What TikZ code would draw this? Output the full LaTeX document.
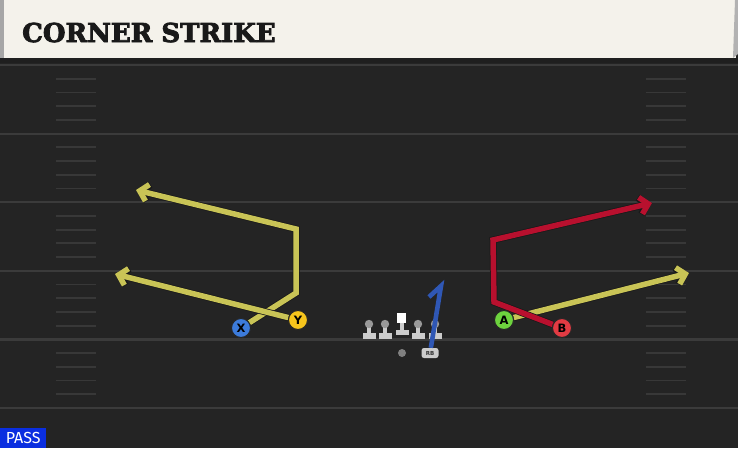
\documentclass[tikz,border=0pt]{standalone}
\usepackage{fontspec}
\setmainfont{DejaVu Sans}
\newfontfamily\titlefont{DejaVu Serif}[BoldFeatures={FakeBold=3}]
\newfontfamily\tagfont{Fira Sans}
\usetikzlibrary{arrows.meta}

\definecolor{fieldbg}{HTML}{242424}
\definecolor{fieldline}{HTML}{3B3B3B}
\definecolor{hashline}{HTML}{383838}
\definecolor{headbg}{HTML}{F4F2EB}
\definecolor{routeyel}{HTML}{C9C456}
\definecolor{routered}{HTML}{B8102E}
\definecolor{routeblue}{HTML}{2F57B5}
\definecolor{xblue}{HTML}{3C7BDB}
\definecolor{yyel}{HTML}{F7C51C}
\definecolor{agreen}{HTML}{6DD33E}
\definecolor{bred}{HTML}{E23B43}
\definecolor{passblue}{HTML}{0A2EE0}

\tikzset{
  player/.style={circle, draw=black!85, line width=1pt, minimum size=19pt,
    inner sep=0pt, font=\bfseries\fontsize{11.5}{11.5}\selectfont},
  route/.style={line width=5.5pt, line join=miter,
    preaction={draw=black!90, line width=7pt}},
  routetip/.style={-{Straight Barb[length=8pt,width=17pt]}},
  yardline/.style={draw=fieldline, line width=2.2pt},
  hash/.style={draw=hashline, line width=1.8pt},
  lineman/.style={fill=black!20},
}

\begin{document}
\begin{tikzpicture}[x=1pt,y=-1pt]
\useasboundingbox (0,0) rectangle (738,448);
% field
\fill[fieldbg] (0,0) rectangle (738,448);
\foreach \k in {0,...,5}
  \draw[yardline] (0,65+68.6*\k) -- (738,65+68.6*\k);
\foreach \k in {0,...,4}
  \foreach \j in {1,...,4} {
    \draw[hash] (56,65+68.6*\k+13.7*\j) -- (96,65+68.6*\k+13.7*\j);
    \draw[hash] (646,65+68.6*\k+13.7*\j) -- (686,65+68.6*\k+13.7*\j);
  }
% header
\fill[black!88] (0,56) rectangle (738,63);
\fill[headbg] (0,0) rectangle (736,58);
\fill[black!35] (0,0) rectangle (4,58);
\fill[black!30] (735,0) -- (738,0) -- (738,54) -- (733,58) -- cycle;
\node[anchor=base west, inner sep=0pt, text=black!90,
  font=\titlefont\bfseries\fontsize{26}{26}\selectfont] (title) at (22,42) {CORNER STRIKE};

% players
\node[player, fill=xblue] (X) at (241,328) {X};
\node[player, fill=yyel] (Y) at (298,320) {Y};
\node[player, fill=agreen] (A) at (504,320) {A};
\node[player, fill=bred] (B) at (562,328) {B};
\node[circle, fill=black!50, minimum size=8pt, inner sep=0pt] (QB) at (402,353) {};
\node[rounded corners=2.5pt, fill=black!20, minimum width=17pt, minimum height=10pt,
  inner sep=0pt, text=black!80, font=\bfseries\fontsize{5.5}{5.5}\selectfont] (RB) at (430,353) {RB};

% offensive line
\foreach \px in {369,385,418,435} {
  \fill[lineman] (\px-6.5,333) rectangle (\px+6.5,338.5);
  \fill[lineman] (\px-2.4,324) rectangle (\px+2.4,334);
  \fill[black!40] (\px,324) circle (4.2);
}
\fill[lineman] (395.5,329.5) rectangle (408.5,334.5);
\fill[lineman] (400,322) rectangle (404,330);
\fill[white] (397,313) rectangle (406,323);

% route points
\coordinate (xcut) at (296,293);
\coordinate (xup) at (296,229);
\coordinate (xend) at (136,190);
\coordinate (yend) at (115,274);
\coordinate (aend) at (689,273);
\coordinate (bcut) at (494,302);
\coordinate (bup) at (493,240);
\coordinate (bend) at (652,203);
\coordinate (rbup) at (441,286);
\coordinate (rbend) at (429,297);

% routes
\draw[route, routetip, routeyel] (X) -- (xcut) -- (xup) -- (xend);
\draw[route, routetip, routeyel] (Y) -- (yend);
\draw[route, routetip, routeyel] (A) -- (aend);
\draw[route, routetip, routered] (B) -- (bcut) -- (bup) -- (bend);
\draw[routeblue, line width=4.6pt, line join=miter] (RB) -- (rbup) -- (rbend);

% players on top
\node[player, fill=xblue] at (X) {X};
\node[player, fill=yyel] at (Y) {Y};
\node[player, fill=agreen] at (A) {A};
\node[player, fill=bred] at (B) {B};

% play type
\node[anchor=south west, fill=passblue, text=white, inner xsep=4pt, inner ysep=2pt,
  minimum width=46pt, minimum height=20pt,
  font=\tagfont\fontsize{16}{16}\selectfont] (tag) at (0,448) {PASS};
\end{tikzpicture}
\end{document}
